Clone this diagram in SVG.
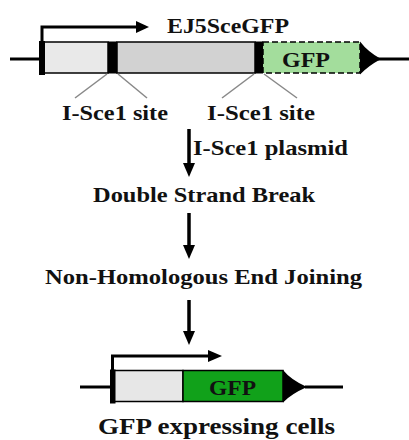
<svg xmlns="http://www.w3.org/2000/svg" width="409" height="440" viewBox="0 0 409 440">
<defs>
<style>
text{font-family:"Liberation Serif","Times New Roman",serif;font-weight:bold;fill:#111}
.dna{stroke:#000;stroke-width:3;fill:none}
.box{stroke:#000;stroke-width:1.5}
.site{stroke:#888;stroke-width:1.5}
.arr{stroke:#000;stroke-width:3.5}
</style>
</defs>

<g id="construct-top">
<line class="dna" x1="10" y1="59" x2="42" y2="59"/>
<line class="dna" x1="378" y1="59" x2="409" y2="59"/>
<rect class="box" x="43" y="42" width="65" height="31" fill="#e9e9e9"/>
<rect class="box" x="117" y="42" width="138" height="31" fill="#d2d2d2"/>
<rect x="108" y="41.5" width="9" height="32" fill="#000"/>
<rect x="255" y="41.5" width="8" height="32" fill="#000"/>
<rect x="263" y="42" width="97" height="31" fill="#a3dd9c" stroke="#000" stroke-width="1.5" stroke-dasharray="6,3"/>
<path d="M360,41.5 Q368,52 381,59 Q368,66 360,74.5 Z" fill="#000"/>
<path d="M42,75 L42,27 L140,27" class="dna" stroke-width="4"/>
<rect x="39" y="41" width="6" height="34" fill="#000"/>
<path d="M136,21 L149,27 L136,33 Z" fill="#000"/>
<text x="282" y="67" font-size="21" textLength="48" lengthAdjust="spacingAndGlyphs" fill="#0d2a0d">GFP</text>
<text x="167" y="33" font-size="21" textLength="122" lengthAdjust="spacingAndGlyphs">EJ5SceGFP</text>
</g>

<g id="site-left">
<line class="site" x1="75" y1="98" x2="107" y2="74"/>
<line class="site" x1="147" y1="98" x2="118" y2="74"/>
<text x="62" y="120" font-size="21" textLength="106" lengthAdjust="spacingAndGlyphs">I-Sce1 site</text>
</g>

<g id="site-right">
<line class="site" x1="222" y1="98" x2="254" y2="74"/>
<line class="site" x1="297" y1="98" x2="264" y2="74"/>
<text x="207" y="120" font-size="21" textLength="108" lengthAdjust="spacingAndGlyphs">I-Sce1 site</text>
</g>

<g id="step-dsb">
<text x="93" y="202" font-size="22" textLength="222" lengthAdjust="spacingAndGlyphs">Double Strand Break</text>
</g>

<g id="step-nhej">
<text x="45" y="284" font-size="22" textLength="317" lengthAdjust="spacingAndGlyphs">Non-Homologous End Joining</text>
</g>

<g id="connectors">
<line class="arr" x1="189" y1="129" x2="189" y2="164"/>
<path d="M183,163 L195,163 L189,177 Z" fill="#000"/>
<text x="193" y="155" font-size="21" textLength="155" lengthAdjust="spacingAndGlyphs">I-Sce1 plasmid</text>
<line class="arr" x1="189" y1="213" x2="189" y2="246"/>
<path d="M183,245 L195,245 L189,259 Z" fill="#000"/>
<line class="arr" x1="189" y1="300" x2="189" y2="332"/>
<path d="M183,331 L195,331 L189,345 Z" fill="#000"/>
</g>

<g id="construct-bottom">
<line class="dna" x1="80" y1="387" x2="112" y2="387"/>
<line class="dna" x1="305" y1="387" x2="343" y2="387"/>
<rect class="box" x="114" y="370.5" width="69" height="31" fill="#e7e7e7"/>
<rect class="box" x="183" y="370.5" width="100" height="31" fill="#11a11a"/>
<path d="M283,370 Q291,380 307,387 Q291,394 283,402.5 Z" fill="#000"/>
<path d="M112.5,403 L112.5,356 L212,356" class="dna" stroke-width="4"/>
<rect x="110" y="369.5" width="5.5" height="34" fill="#000"/>
<path d="M208,350 L222,356 L208,362 Z" fill="#000"/>
<text x="209" y="395" font-size="21" textLength="47" lengthAdjust="spacingAndGlyphs" fill="#0d2a0d">GFP</text>
<text x="98" y="434" font-size="23" textLength="237" lengthAdjust="spacingAndGlyphs">GFP expressing cells</text>
</g>
</svg>
